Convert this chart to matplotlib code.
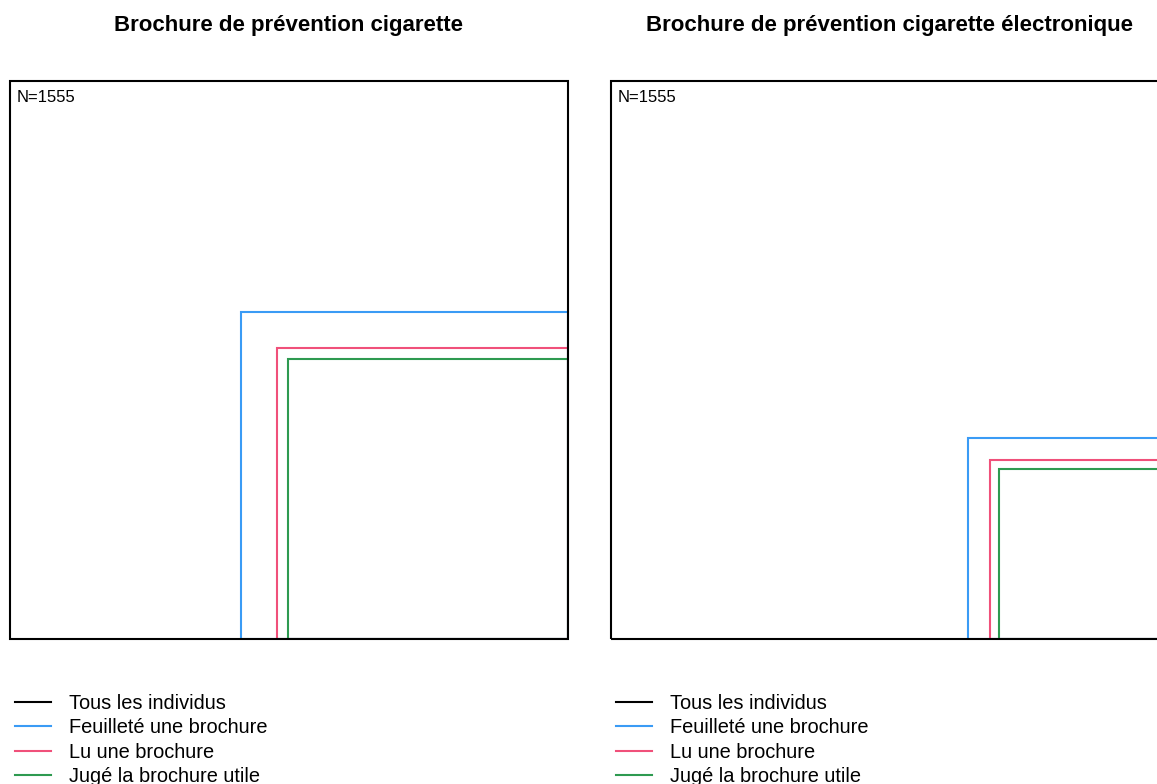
import matplotlib
matplotlib.use("Agg")
import matplotlib.pyplot as plt
from matplotlib.patches import Rectangle
from matplotlib.lines import Line2D
import numpy as np

plt.rcParams['font.family'] = ['Liberation Sans', 'DejaVu Sans']

titles = ["Brochure de prévention cigarette",
          "Brochure de prévention cigarette électronique"]
series_labels = ["Tous les individus", "Feuilleté une brochure",
                 "Lu une brochure", "Jugé la brochure utile"]
series_colors = ["#000000", "#3A9BF5", "#F0507A", "#2E9A50"]
total_n = [1555, 1555]
cig_counts = [534, 424, 392]
ecig_counts = [202, 160, 144]
panel_counts = [cig_counts, ecig_counts]

W, H = 1157, 784
fig = plt.figure(figsize=(W / 100, H / 100), dpi=100)

lefts = [10, 611]
side = 558
top_px = 81

for i in range(2):
    ax = fig.add_axes([lefts[i] / W, (H - top_px - side) / H, side / W, side / H])
    ax.set_xlim(0, 1)
    ax.set_ylim(0, 1)
    ax.set_xticks([])
    ax.set_yticks([])
    for sp in ax.spines.values():
        sp.set_visible(False)
    N = total_n[i]
    for k, c in enumerate(panel_counts[i]):
        s = np.sqrt(c / N)
        ax.add_patch(Rectangle((1 - s, 0), s, s, fill=False,
                               edgecolor=series_colors[k + 1], lw=1.5, zorder=2))
    ax.add_patch(Rectangle((0, 0), 1, 1, fill=False, edgecolor=series_colors[0],
                           lw=1.5, zorder=5, clip_on=False))
    ax.set_title(titles[i], fontsize=16, fontweight='bold', pad=36)
    ax.text(0.012, 0.983, f"N={N}", transform=ax.transAxes, ha='left', va='top',
            fontsize=12)
    handles = [Line2D([], [], color=c, lw=1.5) for c in series_colors]
    ax.legend(handles, series_labels, loc='upper left',
              bbox_to_anchor=(0.0, -0.09), frameon=False, fontsize=14.4,
              handlelength=1.8, handletextpad=0.9, labelspacing=0.26,
              borderaxespad=0, borderpad=0.25)

fig.savefig("out.png", dpi=100)
